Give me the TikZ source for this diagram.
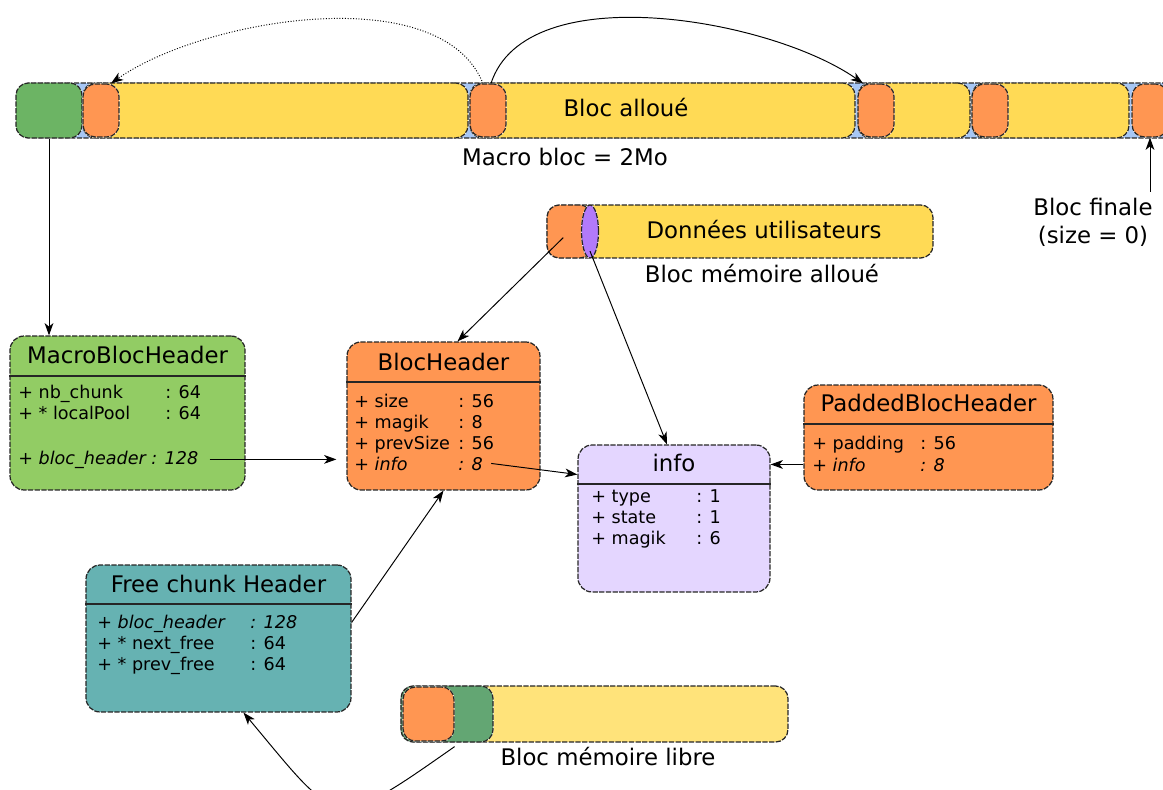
\documentclass[tikz,border=0pt]{standalone}
\usepackage{fontspec}
\setmainfont{DejaVu Sans}
\usetikzlibrary{shapes.geometric,arrows.meta}
\definecolor{barblue}{RGB}{167,199,245}
\definecolor{blocyellow}{RGB}{255,218,85}
\definecolor{libreyellow}{RGB}{255,227,122}
\definecolor{headorange}{RGB}{255,150,82}
\definecolor{macrogreen}{RGB}{108,180,100}
\definecolor{mbhgreen}{RGB}{146,204,100}
\definecolor{infolilac}{RGB}{228,214,255}
\definecolor{freeteal}{RGB}{102,178,178}
\definecolor{libregreen}{RGB}{99,166,115}
\definecolor{infopurple}{RGB}{178,122,250}
\begin{document}
\begin{tikzpicture}[x=0.02cm,y=-0.02cm,>={Stealth[length=7pt,width=5pt,inset=2pt]},
    seg/.style={draw=black!85,line width=0.7pt,dash pattern=on 3pt off 0.8pt,
      preaction={draw=white,solid,line width=0.7pt},rounded corners=7pt,inner sep=0pt},
    classbox/.style={seg,rounded corners=8pt},
    hdr/.style={font=\fontsize{13}{15}\selectfont},
    fields/.style={font=\fontsize{10}{12}\selectfont,inner sep=0pt},
    lbl/.style={font=\fontsize{13}{16}\selectfont,align=center},
    sepline/.style={draw=black!85,line width=0.7pt},
    link/.style={->,line width=0.55pt}]
    \useasboundingbox (0,0) rectangle (1163,790);
    \clip (0,0) rectangle (1163,790);

    % macro bloc
    \node[seg,fill=barblue,minimum width=23.4cm,minimum height=1.1cm,anchor=west] (macro) at (16,110.5) {};
    \node[seg,fill=macrogreen,minimum width=1.32cm,minimum height=1.1cm] (mhead) at (49,110.5) {};
    \foreach \n/\cx/\w in {y1/275.5/7.7,y2/662.5/7.7,y3/914/2.24,y4/1050.5/3.14}
        \node[seg,fill=blocyellow,minimum width=\w cm,minimum height=1.1cm] (\n) at (\cx,110.5) {};
    \foreach \n/\cx in {o1/101,o2/488,o3/876,o4/990,o5/1150}
        \node[seg,fill=headorange,minimum width=0.72cm,minimum height=1.06cm] (\n) at (\cx,110.5) {};
    \node[lbl] (lalloue) at (626,108) {Bloc alloué};
    \node[lbl] (lmacro) at (565,157) {Macro bloc = 2Mo};
    \node[lbl] (lfinale) at (1093,222) {Bloc finale\\(size = 0)};
    \draw[link,densely dotted] ([xshift=-0.1cm]o2.north) to[out=112,in=35,looseness=0.78] ([xshift=0.2cm]o1.north);
    \draw[link] ([xshift=0.06cm]o2.north) to[out=72,in=145,looseness=0.78] ([xshift=-0.26cm]o3.north);
    \draw[link] (o5.south |- lfinale.north) -- (o5.south);

    % bloc alloue
    \node[seg,fill=blocyellow,minimum width=7.72cm,minimum height=1.06cm] (dusr) at (740,231.5) {};
    \node[seg,fill=headorange,minimum width=0.9cm,minimum height=1.06cm] (dhead) at (569.5,231.5) {};
    \node[seg,ellipse,fill=infopurple,minimum width=0.34cm,minimum height=1.06cm] (dinfo) at (590,231.5) {};
    \node[lbl] (ldata) at (764,230) {Données utilisateurs};
    \node[lbl] (lalloc) at (762,274) {Bloc mémoire alloué};

    % bloc libre
    \node[seg,fill=libreyellow,minimum width=7.74cm,minimum height=1.12cm] (lib) at (594.5,714) {};
    \node[seg,fill=libregreen,minimum width=1.84cm,minimum height=1.12cm] (lgreen) at (447,714) {};
    \node[seg,fill=headorange,minimum width=1.02cm,minimum height=1.08cm] (lhead) at (428.5,714) {};
    \node[lbl] (llibre) at (608,757) {Bloc mémoire libre};

    % MacroBlocHeader
    \node[classbox,fill=mbhgreen,minimum width=4.7cm,minimum height=3.08cm] (mbh) at (127.5,413) {};
    \node[hdr] (mbhname) at (127.5,355) {MacroBlocHeader};
    \draw[sepline] (mbh.west |- 0,376) -- (mbh.east |- 0,376);
    \node[fields,anchor=north west] (mbhfields) at (18,383)
        {\begin{tabular}{@{}p{2.94cm}@{}l@{}}+ nb\_chunk & : 64\\+ * localPool & : 64\end{tabular}};
    \node[fields,anchor=base west] (mbhptr) at (18,464) {+ \textit{bloc\_header : 128}};

    % BlocHeader
    \node[classbox,fill=headorange,minimum width=3.86cm,minimum height=2.96cm] (bh) at (443.5,416) {};
    \node[hdr] (bhname) at (443.5,362) {BlocHeader};
    \draw[sepline] (bh.west |- 0,382) -- (bh.east |- 0,382);
    \node[fields,anchor=north west] (bhfields) at (354,392)
        {\begin{tabular}{@{}p{2.08cm}@{}l@{}}+ size & : 56\\+ magik & : 8\\+ prevSize & : 56\end{tabular}};
    \node[fields,anchor=base west] (bhinfo) at (354,470) {\makebox[2.08cm][l]{+ \textit{info}}\textit{: 8}};

    % info
    \node[classbox,fill=infolilac,minimum width=3.84cm,minimum height=2.94cm] (info) at (674,518.5) {};
    \node[hdr] (infoname) at (674,463) {info};
    \draw[sepline] (info.west |- 0,484) -- (info.east |- 0,484);
    \node[fields,anchor=north west] (infofields) at (591,487)
        {\begin{tabular}{@{}p{2.1cm}@{}l@{}}+ type & : 1\\+ state & : 1\\+ magik & : 6\end{tabular}};

    % PaddedBlocHeader
    \node[classbox,fill=headorange,minimum width=4.98cm,minimum height=2.1cm] (pbh) at (928.5,437.5) {};
    \node[hdr] (pbhname) at (928.5,403) {PaddedBlocHeader};
    \draw[sepline] (pbh.west |- 0,424) -- (pbh.east |- 0,424);
    \node[fields,anchor=north west] (pbhfields) at (812,434)
        {\begin{tabular}{@{}p{2.16cm}@{}l@{}}+ padding & : 56\end{tabular}};
    \node[fields,anchor=base west] (pbhinfo) at (812,471) {\makebox[2.16cm][l]{+ \textit{info}}\textit{: 8}};

    % Free chunk Header
    \node[classbox,fill=freeteal,minimum width=5.3cm,minimum height=2.94cm] (fch) at (218.5,638.5) {};
    \node[hdr] (fchname) at (218.5,584) {Free chunk Header};
    \draw[sepline] (fch.west |- 0,604) -- (fch.east |- 0,604);
    \node[fields,anchor=north west] (fchfields) at (97,613)
        {\begin{tabular}{@{}p{3.06cm}@{}l@{}}+ \textit{bloc\_header} & \textit{: 128}\\+ * next\_free & : 64\\+ * prev\_free & : 64\end{tabular}};

    \draw[link] (mhead.south) -- (mhead.south |- mbh.north);
    \draw[link,shorten <=5pt] (dhead.center) -- ([xshift=0.28cm]bh.north);
    \draw[link] ([yshift=0.15cm]dinfo.south) -- ([xshift=-0.14cm]info.north);
    \draw[link] ([xshift=0.22cm]mbhptr.east) -- ([xshift=-0.2cm]mbhptr.east -| bh.west);
    \draw[link] ([xshift=0.16cm]bhinfo.east) -- ([yshift=0.88cm]info.west);
    \draw[link] (pbh.west |- pbhinfo.west) -- (info.east |- pbhinfo.west);
    \draw[link] ([yshift=0.32cm]fch.east) -- (bh.south);
    \draw[link] ([yshift=-0.1cm]lhead.south east) to[out=215,in=-50,looseness=1.8] ([xshift=0.5cm]fch.south);
\end{tikzpicture}
\end{document}
